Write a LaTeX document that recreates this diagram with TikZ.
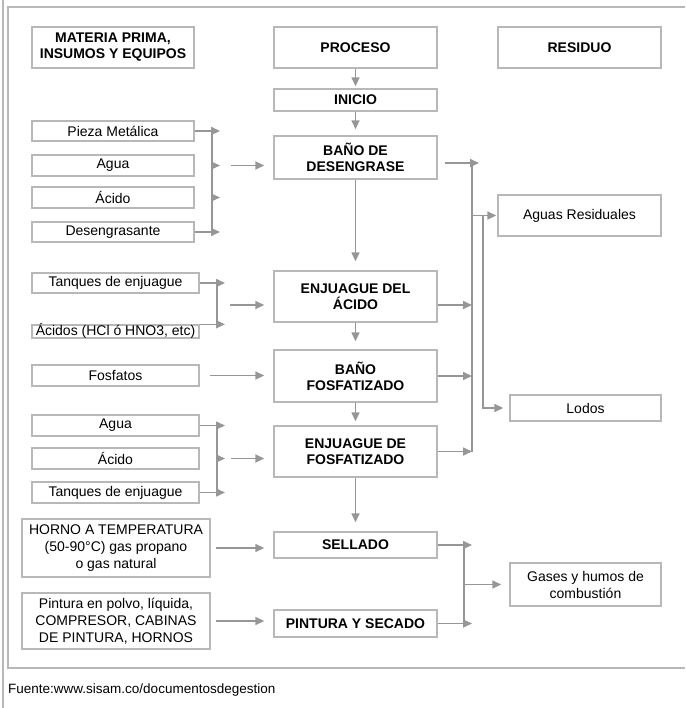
\documentclass[tikz,border=0pt]{standalone}
\usepackage{fontspec}
\setmainfont{Liberation Sans}
\usetikzlibrary{arrows.meta,positioning}
\definecolor{borde}{HTML}{B8B8B8}
\definecolor{gris}{HTML}{969696}
\tikzset{
    insumo/.style={rectangle,draw=borde,line width=1.4pt,inner sep=0pt,align=center,font=\fontsize{14}{17}\selectfont},
    proceso/.style={insumo,minimum width=163pt,font=\fontsize{14}{16}\selectfont\bfseries},
    flecha/.style={-{Triangle[length=9pt,width=8pt]},draw=gris,line width=1.6pt},
    linea/.style={draw=gris,line width=1.6pt},
    marco/.style={draw=borde,line width=1.4pt}
}
\begin{document}
\begin{tikzpicture}[x=1pt,y=-1pt]
    \useasboundingbox (0,0) rectangle (685,708);
    % marco
    \draw[marco] (3,0) -- (3,708);
    \draw[marco] (685,7) -- (8,7) -- (8,668) -- (685,668);

    % encabezados
    \node[proceso,minimum width=162pt,minimum height=41pt] (mp) at (113,47.5) {MATERIA PRIMA,\\INSUMOS Y EQUIPOS};
    \node[proceso,minimum height=41pt] (pr) at (355.5,47.5) {PROCESO};
    \node[proceso,minimum height=41pt] (re) at (579.5,47.5) {RESIDUO};

    % proceso
    \node[proceso,minimum height=22pt] (ini) at (355.5,100) {INICIO};
    \node[proceso,minimum height=43pt] (desg) at (355.5,157.5) {BAÑO DE\\DESENGRASE};
    \node[proceso,minimum height=51pt] (enja) at (355.5,296.5) {ENJUAGUE DEL\\ÁCIDO};
    \node[proceso,minimum height=52pt] (fosf) at (355.5,376) {BAÑO\\FOSFATIZADO};
    \node[proceso,minimum height=51pt] (enjf) at (355.5,451.5) {ENJUAGUE DE\\FOSFATIZADO};
    \node[proceso,minimum height=26pt] (sell) at (355.5,545) {SELLADO};
    \node[proceso,minimum height=27pt] (pint) at (355.5,623.5) {PINTURA Y SECADO};

    % insumos
    \node[insumo,minimum width=162pt,minimum height=20pt] (pz) at (113,131) {Pieza Metálica};
    \node[insumo,minimum width=162pt,minimum height=21pt] (ag) at (113,165.5) {Agua};
    \node[insumo,minimum width=162pt,minimum height=21pt] (ac) at (113,197.5) {Ácido};
    \node[insumo,minimum width=162pt,minimum height=20pt] (de) at (113,232) {Desengrasante};
    \node[insumo,minimum width=167pt,minimum height=20pt] (tq) at (115.5,283) {Tanques de enjuague};
    \node[insumo,minimum width=167pt,minimum height=13pt,text height=9pt,text depth=2pt] (acs) at (115.5,331.5) {Ácidos (HCl ó HNO3, etc)};
    \node[insumo,minimum width=167pt,minimum height=21pt] (fo) at (115.5,375.5) {Fosfatos};
    \node[insumo,minimum width=167pt,minimum height=21pt] (ag2) at (115.5,425.5) {Agua};
    \node[insumo,minimum width=167pt,minimum height=21pt] (ac2) at (115.5,458.5) {Ácido};
    \node[insumo,minimum width=167pt,minimum height=21pt] (tq2) at (115.5,492.5) {Tanques de enjuague};
    \node[insumo,minimum width=188pt,minimum height=58pt] (horno) at (116,548) {HORNO A TEMPERATURA\\(50-90°C) gas propano\\o gas natural};
    \node[insumo,minimum width=188pt,minimum height=56pt] (pintura) at (116,621) {Pintura en polvo, líquida,\\COMPRESOR, CABINAS\\DE PINTURA, HORNOS};

    % residuos
    \node[insumo,minimum width=163pt,minimum height=41pt] (aguas) at (579.5,215.5) {Aguas Residuales};
    \node[insumo,minimum width=151pt,minimum height=26pt] (lodos) at (585.5,408) {Lodos};
    \node[insumo,minimum width=151pt,minimum height=43pt] (gases) at (585.5,584.5) {Gases y humos de\\combustión};

    \node[anchor=base west,inner sep=0pt,font=\fontsize{13.5}{16}\selectfont] (fuente) at (8,693) {Fuente:www.sisam.co/documentosdegestion};

    % flechas del proceso
    \path (pr) edge[flecha,shorten >=2pt] (ini)
          (ini) edge[flecha,shorten >=6pt] (desg)
          (desg) edge[flecha,shorten >=9pt] (enja)
          (enja) edge[flecha,shorten >=8pt] (fosf)
          (fosf) edge[flecha,shorten >=4pt] (enjf)
          (enjf) edge[flecha,shorten >=9pt] (sell);

    \coordinate (b1) at (212,0);
    \coordinate (b2) at (217,0);
    \coordinate (t1) at (472,0);
    \coordinate (t2) at (483,0);
    \coordinate (t3) at (464,0);

    % entradas
    \draw[linea] (pz.east -| b1) -- (de.east -| b1);
    \draw[flecha] (pz.east) -- (pz.east -| b1) -- ++(8,0);
    \draw[flecha] (de.east) -- (de.east -| b1) -- ++(8,0);
    \draw[flecha] (ag.east -| b1) -- ++(8,0);
    \draw[flecha] (ac.east -| b1) -- ++(8,0);
    \draw[flecha,shorten <=36pt,shorten >=9pt] (ag.east) -- (desg.west |- ag.east);

    \draw[linea] (tq.east -| b2) -- (acs.north east -| b2);
    \draw[flecha] (tq.east) -- (tq.east -| b2) -- ++(8,0);
    \draw[flecha] (acs.north east) -- (acs.north east -| b2) -- ++(8,0);
    \coordinate (m2) at (230,305);
    \draw[flecha,shorten >=9pt] (m2) -- (enja.west |- m2);

    \draw[flecha,shorten <=10pt,shorten >=9pt] (fo.east) -- (fosf.west |- fo.east);

    \draw[linea] (ag2.east -| b2) -- (tq2.east -| b2);
    \draw[flecha] (ag2.east) -- (ag2.east -| b2) -- ++(8,0);
    \draw[flecha] (tq2.east) -- (tq2.east -| b2) -- ++(8,0);
    \draw[flecha] (ac2.east -| b2) -- ++(8,0);
    \draw[flecha,shorten <=31pt,shorten >=9pt] (ac2.east) -- (enjf.west |- ac2.east);

    \draw[flecha,shorten <=5pt,shorten >=9pt] (horno.east) -- (sell.west |- horno.east);
    \draw[flecha,shorten <=5pt,shorten >=9pt] (pintura.east) -- (pint.west |- pintura.east);

    % salidas
    \coordinate (d1) at ([xshift=7pt,yshift=-5.5pt]desg.east);
    \coordinate (ea) at ([yshift=-8.5pt]enja.east);
    \draw[linea] (d1 -| t1) -- (enjf.east -| t1);
    \draw[flecha] (d1) -- (d1 -| t1) -- ++(7,0);
    \draw[flecha] (ea) -- (ea -| t1);
    \draw[flecha] (fosf.east) -- (fosf.east -| t1);
    \draw[flecha] (enjf.east) -- (enjf.east -| t1);
    \draw[flecha,shorten >=1pt] (aguas.west -| t1) -- (aguas.west);
    \draw[flecha,shorten >=6pt] (aguas.west -| t2) -- (lodos.west -| t2) -- (lodos.west);

    \draw[linea] (sell.east -| t3) -- (pint.east -| t3);
    \draw[flecha] (sell.east) -- (sell.east -| t3) -- ++(8,0);
    \draw[flecha] (pint.east) -- (pint.east -| t3) -- ++(8,0);
    \draw[flecha,shorten >=8pt] (gases.west -| t3) -- (gases.west);
\end{tikzpicture}
\end{document}
